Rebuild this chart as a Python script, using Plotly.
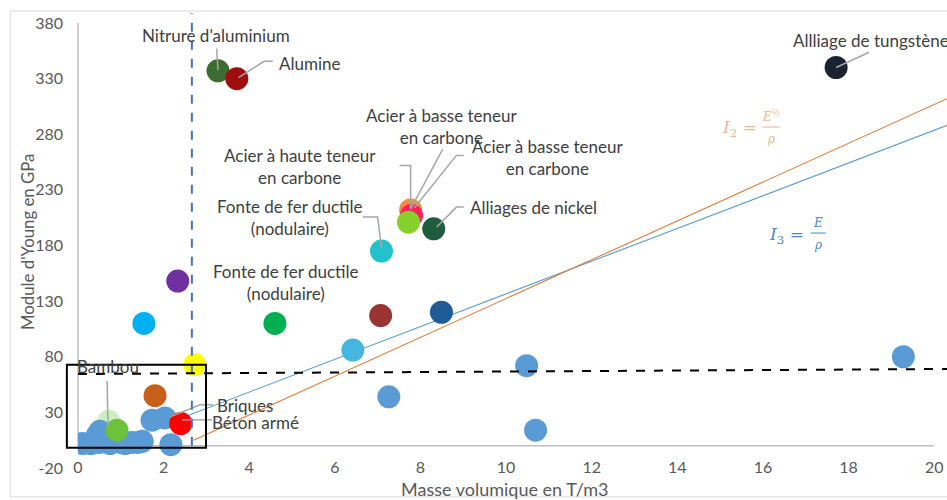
import plotly.graph_objects as go

# ---------------- data ----------------
X_RANGE = [0, 20.3]
Y_RANGE = [-20, 380]
x_ticks = [0, 2, 4, 6, 8, 10, 12, 14, 16, 18, 20]
y_ticks = [-20, 30, 80, 130, 180, 230, 280, 330, 380]
y_tick_text = ["-20", "30", "80", "130", "180", "230", "280", "330", "380"]

# faint material hidden behind the bamboo point
pale_x = [0.72]
pale_y = [22]
PALE = "#cdeec0"

# generic (steel-blue) materials
blue_x = [0.10, 0.30, 0.50, 0.75, 1.00, 1.10, 1.25, 1.40, 1.50, 0.45, 0.51, 1.73, 2.03, 2.17,
          7.26, 10.48, 10.69, 19.28]
blue_y = [2, 2, 3, 2, 3, 2, 3, 3, 4, 9, 13, 23, 25, 1,
          44, 72, 14, 80]
BLUE = "#5b9bd5"

# highlighted materials (drawn in this order)
hl_x = [0.91, 2.40, 1.80, 2.73, 6.42, 8.49, 7.07, 4.60, 1.54, 2.33, 7.09,
        8.31, 7.77, 7.79, 7.72, 3.27, 3.71, 17.71]
hl_y = [14, 20, 45, 73, 86, 120, 117, 110, 110, 148, 175,
        195, 212, 207, 201, 337, 330, 340]
hl_c = ["#6cc23a", "#ff0000", "#c8601a", "#ffff00", "#45b6dd", "#1f5c96",
        "#9a3433", "#00b050", "#00b0f0", "#7030a0", "#23c1c9", "#1d5c3c", "#f28e3c",
        "#ff1f5a", "#86d02c", "#3e6b30", "#a00d0d", "#1b2230"]

# performance index lines
i3_x = [0.72, 20.3]
i3_y = [0, 288]
i2_x = [2.70, 20.3]
i2_y = [5, 312]

# reference lines / frame
v_line_x = 2.66
v_line_y = [0, 389]
h_line_x = [0, 20.3]
h_line_y = [64.5, 69]
box_x = [-0.26, 2.99]
box_y = [-1.8, 72.7]

# labels: text, x, y, anchor
labels = [
    ("Nitrure d'aluminium", 3.22, 369, "center"),
    ("Alumine", 5.41, 344, "center"),
    ("Allliage de tungstène", 16.66, 364.5, "left"),
    ("Acier à basse teneur<br>en carbone", 8.49, 287, "center"),
    ("Acier à basse teneur<br>en carbone", 10.97, 259, "center"),
    ("Acier à haute teneur<br>en carbone", 5.18, 251, "center"),
    ("Fonte de fer ductile<br>(nodulaire)", 4.95, 205.6, "center"),
    ("Fonte de fer ductile<br>(nodulaire)", 4.85, 147, "center"),
    ("Alliages de nickel", 10.64, 214.5, "center"),
    ("Bambou", 0.70, 71, "center"),
    ("Briques", 3.90, 36, "center"),
    ("Béton armé", 4.15, 20.5, "center"),
]

# leader lines (polylines in data units)
leaders = [
    ([3.24, 3.27], [357, 337.5]),
    ([4.55, 4.35, 3.75], [345.6, 345.6, 331]),
    ([18.48, 17.71], [353.7, 340]),
    ([8.52, 7.77], [266.6, 212.7]),
    ([9.01, 8.84, 7.86], [261, 261, 214]),
    ([7.51, 7.77, 7.77], [252, 252, 213]),
    ([6.65, 7.00, 7.09], [205.6, 205.6, 177]),
    ([9.01, 8.84, 8.38], [214.5, 214.5, 196.6]),
    ([0.68, 0.70], [58.3, 16.2]),
    ([3.15, 2.85, 2.15], [36.8, 36.8, 26]),
    ([3.13, 2.43], [23.3, 23.3]),
]

# formula pieces: (text, x, y, size)
I2_COLOR = "#f2b68c"
I3_COLOR = "#4a86c8"
formula_i2 = [("<i>I</i><sub>2</sub> =", 15.46, 285.6, 17),
              ("<i>E</i><sup>½</sup>", 16.18, 296.5, 12),
              ("<i>ρ</i>", 16.18, 275.6, 12)]
formula_i2_bar = ([15.98, 16.40], 286.5)
formula_i3 = [("<i>I</i><sub>3</sub> =", 16.56, 189.4, 17),
              ("<i>E</i>", 17.29, 199.8, 12),
              ("<i>ρ</i>", 17.29, 180.4, 12)]
formula_i3_bar = ([17.12, 17.47], 191.2)

FONT = "Lato"
TXT = "#404040"
TICK = "#595959"


def xp(v):
    return (v - X_RANGE[0]) / (X_RANGE[1] - X_RANGE[0])


def yp(v):
    return (v - Y_RANGE[0]) / (Y_RANGE[1] - Y_RANGE[0])


fig = go.Figure()

# index lines
fig.add_trace(go.Scatter(x=i3_x, y=i3_y, mode="lines",
                         line=dict(color="#5b9bd5", width=1.1), hoverinfo="skip"))
fig.add_trace(go.Scatter(x=i2_x, y=i2_y, mode="lines",
                         line=dict(color="#e07b39", width=1.1), hoverinfo="skip"))

# points
fig.add_trace(go.Scatter(x=pale_x, y=pale_y, mode="markers",
                         marker=dict(size=23, color=PALE, line=dict(width=0))))
fig.add_trace(go.Scatter(x=blue_x, y=blue_y, mode="markers",
                         marker=dict(size=23, color=BLUE, line=dict(width=0))))
fig.add_trace(go.Scatter(x=hl_x, y=hl_y, mode="markers",
                         marker=dict(size=23, color=hl_c, line=dict(width=0))))

# leaders
for lx, ly in leaders:
    fig.add_trace(go.Scatter(x=lx, y=ly, mode="lines",
                             line=dict(color="#a6a6a6", width=1.5), hoverinfo="skip"))

shapes = [
    # chart border
    dict(type="rect", xref="paper", yref="paper", x0=-0.078, x1=1.02, y0=-0.065, y1=1.027,
         line=dict(color="#d9d9d9", width=1), layer="below"),
    # axis lines
    dict(type="line", xref="paper", yref="paper", x0=xp(0), x1=xp(20), y0=yp(0), y1=yp(0),
         line=dict(color="#bfbfbf", width=1.5), layer="below"),
    dict(type="line", xref="paper", yref="paper", x0=xp(0), x1=xp(0), y0=yp(-5), y1=yp(380),
         line=dict(color="#bfbfbf", width=1.5), layer="below"),
    # vertical dashed blue
    dict(type="line", xref="paper", yref="paper", x0=xp(v_line_x), x1=xp(v_line_x),
         y0=yp(v_line_y[0]), y1=yp(v_line_y[1]),
         line=dict(color="#4472c4", width=2, dash="dash")),
    # horizontal dashed black
    dict(type="line", xref="paper", yref="paper", x0=xp(h_line_x[0]), x1=xp(h_line_x[1]),
         y0=yp(h_line_y[0]), y1=yp(h_line_y[1]),
         line=dict(color="black", width=2, dash="dash")),
    # box
    dict(type="rect", xref="paper", yref="paper", x0=xp(box_x[0]), x1=xp(box_x[1]),
         y0=yp(box_y[0]), y1=yp(box_y[1]), line=dict(color="black", width=2)),
    # fraction bars
    dict(type="line", xref="x", yref="y", x0=formula_i2_bar[0][0], x1=formula_i2_bar[0][1],
         y0=formula_i2_bar[1], y1=formula_i2_bar[1], line=dict(color=I2_COLOR, width=1)),
    dict(type="line", xref="x", yref="y", x0=formula_i3_bar[0][0], x1=formula_i3_bar[0][1],
         y0=formula_i3_bar[1], y1=formula_i3_bar[1], line=dict(color=I3_COLOR, width=1)),
]

annotations = []
for t, x, y, anc in labels:
    annotations.append(dict(text=t, x=x, y=y, xref="x", yref="y", showarrow=False,
                            xanchor=anc, yanchor="middle", align="center",
                            font=dict(family=FONT, size=17, color=TXT)))

for pieces, col in ((formula_i2, I2_COLOR), (formula_i3, I3_COLOR)):
    for t, x, y, s in pieces:
        annotations.append(dict(text=t, x=x, y=y, xref="x", yref="y", showarrow=False,
                                xanchor="center", yanchor="middle",
                                font=dict(family="DejaVu Serif", size=s, color=col)))

annotations += [
    dict(text="Masse volumique en T/m3", x=0.491, y=-0.0483, xref="paper", yref="paper",
         showarrow=False, xanchor="center", yanchor="middle",
         font=dict(family=FONT, size=18, color=TICK)),
    dict(text="Module d'Young en GPa", x=-0.0575, y=0.508, xref="paper", yref="paper",
         showarrow=False, textangle=-90, xanchor="center", yanchor="middle",
         font=dict(family=FONT, size=16.8, color=TICK)),
]

fig.update_layout(
    width=947, height=500,
    margin=dict(l=78, r=0, t=23, b=32),
    paper_bgcolor="white", plot_bgcolor="white",
    showlegend=False,
    shapes=shapes, annotations=annotations,
    xaxis=dict(range=X_RANGE, tickvals=x_ticks, showgrid=False, zeroline=False,
               showline=False, anchor="free", position=0.027,
               tickfont=dict(family=FONT, size=16, color=TICK)),
    yaxis=dict(range=Y_RANGE, tickvals=y_ticks, ticktext=y_tick_text, showgrid=False,
               zeroline=False, showline=False, ticklabelstandoff=14,
               tickfont=dict(family=FONT, size=16, color=TICK)),
    hovermode=False,
)

fig.write_html("out.html", config={"displayModeBar": False},
               post_script="document.body.style.margin='0px';")
